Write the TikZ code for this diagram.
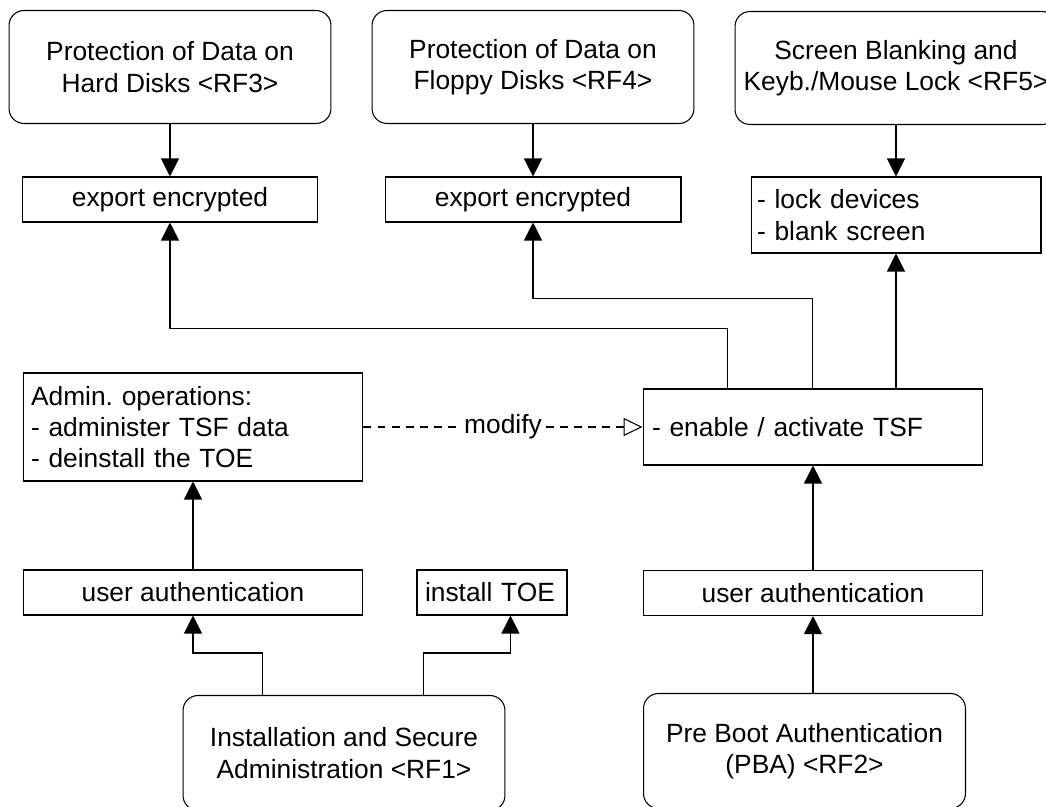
\documentclass[tikz,border=0pt]{standalone}
\usepackage{fontspec}
\setmainfont{Liberation Sans}
\usetikzlibrary{arrows.meta}
\tikzset{
every node/.style={font=\fontsize{15}{17.8}\selectfont}, % Arial-like text everywhere
rf/.style={draw, rounded corners=0.3cm, minimum width=6.44cm, minimum height=2.26cm, align=center, inner sep=0pt}, % rounded boxes for the RF groups
op/.style={draw, minimum width=5.92cm, minimum height=0.9cm, inner sep=0pt}, % plain operation boxes
oplist/.style={draw, align=left, inner xsep=0.16cm, inner ysep=0pt}, % boxes with left aligned lists
arr/.style={-{Triangle[length=0.36cm, width=0.36cm]}}, % filled heads
modarr/.style={dash pattern=on 4.5pt off 3.5pt, -{Triangle[open, length=0.38cm, width=0.36cm, fill=white]}}, % the modify link
}

\begin{document}
\begin{tikzpicture}[x=0.02cm, y=-0.02cm, line width=0.6pt]
            \path[use as bounding box, fill=white] (0,0) rectangle (1046,807);
            % top row
            \node[rf] (rf3) at (170,67) {Protection of Data on\\Hard Disks <RF3>};
            \node[rf] (rf4) at (533,67) {Protection of Data on\\Floppy Disks <RF4>};
            \node[rf] (rf5) at (896,68) {Screen Blanking and\\Keyb./Mouse Lock <RF5>};
            \node[op] (exp3) at (170,199.5) {export encrypted};
            \node[op] (exp4) at (533,199.5) {export encrypted};
            \node[oplist, text width=5.56cm, inner xsep=0.12cm, minimum height=1.52cm] (lock) at (896,215) {- lock devices\\- blank screen};
            % middle row
            \node[oplist, text width=6.48cm, minimum height=2.16cm] (admin) at (193,427) {Admin.\ operations:\\- administer TSF data\\- deinstall the TOE};
            \node[oplist, text width=6.44cm, inner xsep=0.18cm, minimum height=1.52cm] (enable) at (813,427) {- enable / activate TSF};
            % bottom row
            \node[op, minimum width=6.8cm] (ua1) at (193,592.5) {user authentication};
            \node[oplist, text width=2.68cm, minimum height=0.9cm] (inst) at (492,592.5) {install TOE};
            \node[op, minimum width=6.8cm] (ua2) at (813,593) {user authentication};
            \node[rf, minimum height=2.3cm] (rf1) at (344,753) {Installation and Secure\\Administration <RF1>};
            \node[rf, minimum height=2.3cm] (rf2) at (804.5,751) {Pre Boot Authentication\\(PBA) <RF2>};
            \draw[arr] (rf3) -- (exp3);
            \draw[arr] (rf4) -- (exp4);
            \draw[arr] (rf5) -- (lock);
            \draw[arr] ([xshift=1.7cm]enable.north west) -- ++(0,1.2cm) -| (exp3.south);
            \draw[arr] ([xshift=3.4cm]enable.north west) -- ++(0,1.8cm) -| (exp4.south);
            \draw[arr] (enable.north -| lock.south) -- (lock.south);
            \draw[modarr] (admin) -- node[fill=white, inner xsep=1pt]{modify} (enable);
            \draw[arr] (ua1) -- (admin);
            \draw[arr] (ua2) -- (enable);
            \draw[arr] (ua2.south |- rf2.north) -- (ua2.south);
            \draw[arr] ([xshift=1.6cm]rf1.north west) -- ++(0,0.84cm) -| (ua1.south);
            \draw[arr] ([xshift=4.82cm]rf1.north west) -- ++(0,0.84cm) -| ([xshift=1.88cm]inst.south west);
        \end{tikzpicture}
\end{document}
